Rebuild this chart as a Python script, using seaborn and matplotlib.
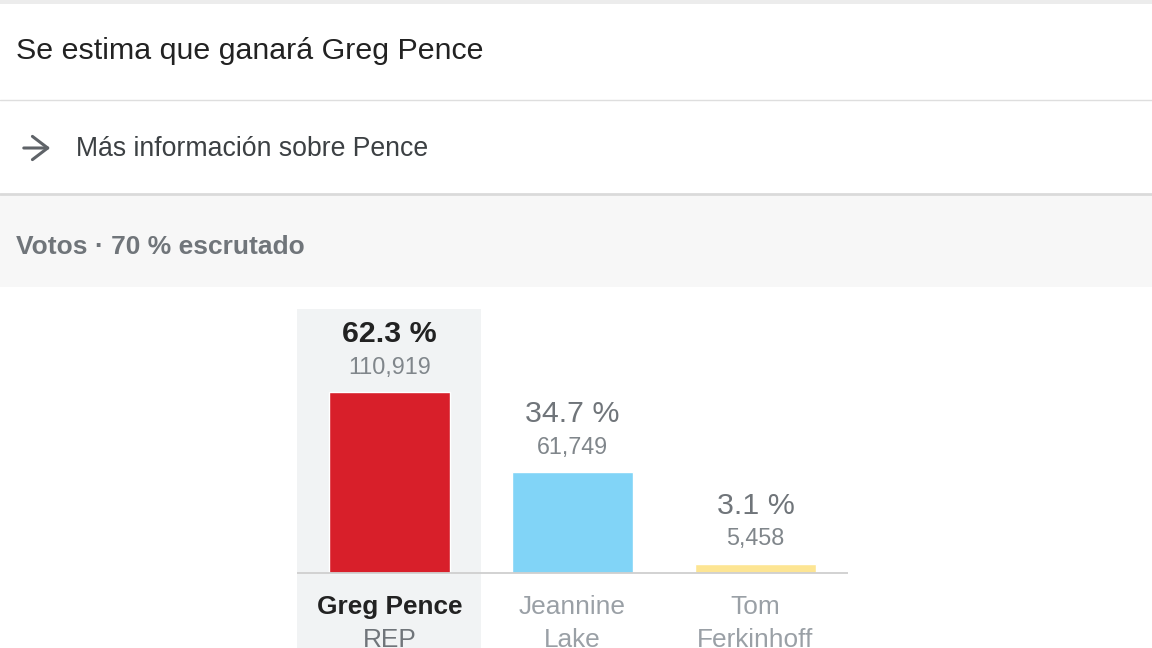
import matplotlib.pyplot as plt
import seaborn as sns
from matplotlib.patches import FancyArrowPatch, Rectangle
from matplotlib.lines import Line2D

# Data
candidates = ['Greg Pence', 'Jeannine Lake', 'Tom Ferkinhoff']
name_line1 = ['Greg Pence', 'Jeannine', 'Tom']
name_line2 = ['REP', 'Lake', 'Ferkinhoff']
percents = [62.3, 34.7, 3.1]
votes = [110919, 61749, 5458]
bar_colors = ['#d81f2a', '#81d4f7', '#fde593']

sns.set_theme(style='white')
plt.rcParams['font.family'] = ['Liberation Sans', 'DejaVu Sans']

W, H = 1152, 648
fig = plt.figure(figsize=(W / 100, H / 100), dpi=100)
fig.patch.set_facecolor('white')


def fx(x):
    return x / W


def fy(y):
    return 1 - y / H


# header bands and separators
fig.add_artist(Rectangle((0, fy(4)), 1, 4 / H, transform=fig.transFigure,
                         color='#ececec', lw=0))
fig.add_artist(Rectangle((0, fy(287)), 1, 92 / H, transform=fig.transFigure,
                         color='#f7f7f7', lw=0))
fig.add_artist(Line2D([0, 1], [fy(100), fy(100)], transform=fig.transFigure,
                      color='#dedede', lw=1))
fig.add_artist(Line2D([0, 1], [fy(194), fy(194)], transform=fig.transFigure,
                      color='#dadada', lw=2))

fig.text(fx(16), fy(51), 'Se estima que ganará Greg Pence', fontsize=21.9,
         color='#222222', va='center', ha='left')
fig.add_artist(FancyArrowPatch((fx(21), fy(148)), (fx(53), fy(148)),
                               transform=fig.transFigure,
                               arrowstyle='->,head_length=0.5,head_width=0.38',
                               mutation_scale=22, lw=2.2, color='#5f6368'))
fig.text(fx(76), fy(149), 'Más información sobre Pence', fontsize=19.2,
         color='#3c4043', va='center', ha='left')
fig.text(fx(16), fy(247), 'Votos · 70 % escrutado', fontsize=19,
         fontweight='bold', color='#70757a', va='center', ha='left')

# chart axes
px_per_pct = 2.905
base_y = 573
top_y = 309
ax = fig.add_axes([fx(297), 0, (848 - 297) / W, (H - top_y) / H])
ax.set_facecolor('none')

sns.barplot(x=candidates, y=percents, hue=candidates, palette=bar_colors,
            width=0.66, legend=False, ax=ax, zorder=2, saturation=1)

ax.set_xlim(-0.505, 2.505)
ax.set_ylim(-(H - base_y) / px_per_pct, (base_y - top_y) / px_per_pct)
ax.axvspan(-0.505, 0.5, color='#f1f3f4', lw=0, zorder=0)
ax.axhline(0, color='#cfcfcf', lw=1.3, zorder=3)
for s in ax.spines.values():
    s.set_visible(False)
ax.set_xticks([])
ax.set_yticks([])
ax.set_xlabel('')
ax.set_ylabel('')

for i, (p, v) in enumerate(zip(percents, votes)):
    win = i == 0
    ax.annotate(f'{p:.1f} %', (i, p), xytext=(0, 42), textcoords='offset points',
                ha='center', va='center', fontsize=21.9,
                fontweight='bold' if win else 'normal',
                color='#222222' if win else '#70757a')
    ax.annotate(f'{v:,}', (i, p), xytext=(0, 18), textcoords='offset points',
                ha='center', va='center', fontsize=16.8, color='#80868b')
    ax.annotate(name_line1[i], (i, 0), xytext=(0, -24.5), textcoords='offset points',
                ha='center', va='center', fontsize=18.9,
                fontweight='bold' if win else 'normal',
                color='#222222' if win else '#9aa0a6')
    ax.annotate(name_line2[i], (i, 0), xytext=(0, -48), textcoords='offset points',
                ha='center', va='center', fontsize=18.9,
                color='#70757a' if win else '#9aa0a6')

fig.savefig('out.png', dpi=100)
